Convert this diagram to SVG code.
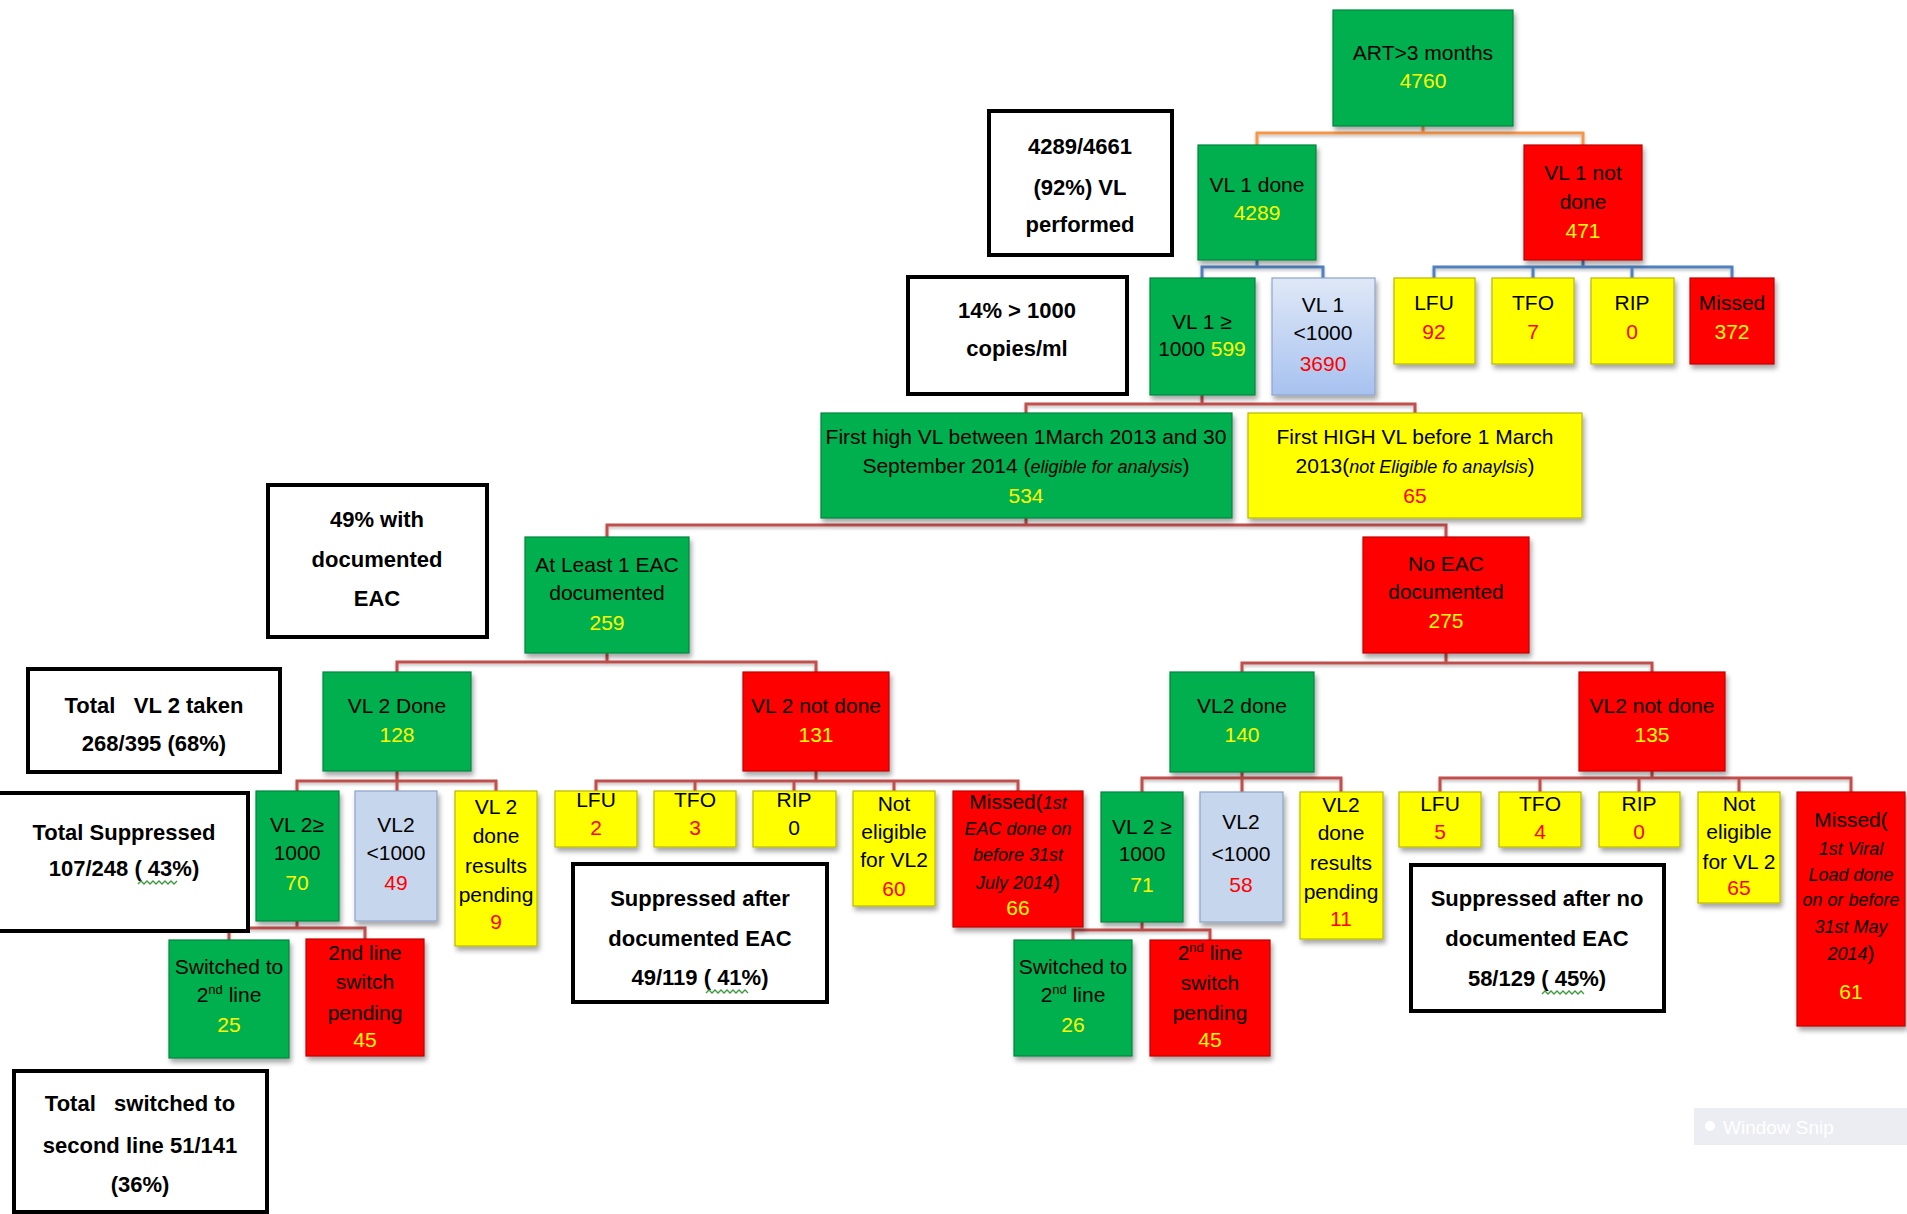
<svg xmlns="http://www.w3.org/2000/svg" width="1907" height="1214" viewBox="0 0 1907 1214">
<defs>
<filter id="sh" x="-10%" y="-10%" width="130%" height="130%">
<feDropShadow dx="2" dy="4" stdDeviation="2.5" flood-color="#000" flood-opacity="0.35"/>
</filter>
<filter id="lg" x="-5%" y="-50%" width="110%" height="300%">
<feDropShadow dx="0" dy="2" stdDeviation="1.5" flood-color="#000" flood-opacity="0.25"/>
</filter>
<linearGradient id="blg" x1="0" y1="0" x2="0" y2="1">
<stop offset="0" stop-color="#dfe8f6"/>
<stop offset="1" stop-color="#a7c2f0"/>
</linearGradient>
</defs>
<style>
text{font-family:"Liberation Sans",Arial,sans-serif;font-size:21px;fill:#000;text-anchor:middle}
.g{fill:#00b050;stroke:#00853c;stroke-width:1.2;filter:url(#sh)}
.rd{fill:#ff0000;stroke:#c00000;stroke-width:1.2;filter:url(#sh)}
.yl{fill:#ffff00;stroke:#b8b800;stroke-width:1.2;filter:url(#sh)}
.bl{fill:#c6d6ec;stroke:#8ea4c8;stroke-width:1.2;filter:url(#sh)}
.blg{fill:url(#blg);stroke:#8ea4c8;stroke-width:1.2;filter:url(#sh)}
.note{fill:#fff;stroke:#000;stroke-width:4}
.nt{font-weight:bold;font-size:22px}
.y{fill:#ffff00}
.r{fill:#ff0000}
.it{font-style:italic;font-size:18px}
.c{fill:none;stroke-width:3;filter:url(#lg)}
.co{stroke:#f79646}
.cb{stroke:#4f81bd}
.cr{stroke:#c0504d}
.sq{fill:none;stroke:#3a9a3a;stroke-width:1.3}
</style>
<rect width="1907" height="1214" fill="#fff"/>

<g id="connectors">
<path class="c co" d="M1423,126 V133 M1257,145 V133 H1583 V145"/>
<path class="c cb" d="M1257,260 V267 M1202,278 V267 H1323 V278"/>
<path class="c cb" d="M1583,260 V267 M1434,278 V267 H1732 V278 M1533,267 V278 M1632,267 V278"/>
<path class="c cr" d="M1202,395 V404 M1026,413 V404 H1415 V413"/>
<path class="c cr" d="M1026,518 V525 M607,537 V525 H1446 V537"/>
<path class="c cr" d="M607,653 V662 M397,672 V662 H816 V672"/>
<path class="c cr" d="M1446,653 V663 M1242,672 V663 H1652 V672"/>
<path class="c cr" d="M397,771 V791 M297,791 V781 H496 V791"/>
<path class="c cr" d="M816,771 V781 M596,791 V781 H1018 V791 M695,781 V791 M794,781 V791 M894,781 V791"/>
<path class="c cr" d="M297,921 V928 M229,940 V928 H365 V939"/>
<path class="c cr" d="M1242,772 V792 M1142,792 V778 H1341 V792"/>
<path class="c cr" d="M1652,771 V778 M1440,792 V778 H1851 V792 M1540,778 V792 M1639,778 V792 M1739,778 V792"/>
<path class="c cr" d="M1142,922 V930 M1073,940 V930 H1210 V940"/>
</g>

<g id="n_art"><rect class="g" x="1333" y="10" width="180" height="116"/>
<text x="1423" y="60">ART&gt;3 months</text><text class="y" x="1423" y="88">4760</text></g>

<g id="n_vl1done"><rect class="g" x="1198" y="145" width="118" height="115"/>
<text x="1257" y="192">VL 1 done</text><text class="y" x="1257" y="220">4289</text></g>

<g id="n_vl1notdone"><rect class="rd" x="1524" y="145" width="118" height="115"/>
<text x="1583" y="180">VL 1 not</text><text x="1583" y="209">done</text><text class="y" x="1583" y="238">471</text></g>

<g id="note_4289"><rect class="note" x="989" y="111" width="183" height="144"/>
<text class="nt" x="1080" y="154">4289/4661</text><text class="nt" x="1080" y="195">(92%) VL</text><text class="nt" x="1080" y="232">performed</text></g>

<g id="note_14"><rect class="note" x="908" y="277" width="219" height="117"/>
<text class="nt" x="1017" y="318">14% &gt; 1000</text><text class="nt" x="1017" y="356">copies/ml</text></g>

<g id="n_vl1hi"><rect class="g" x="1150" y="278" width="105" height="117"/>
<text x="1202" y="329">VL 1 ≥</text><text x="1202" y="356">1000 <tspan class="y">599</tspan></text></g>

<g id="n_vl1lo"><rect class="blg" x="1272" y="278" width="103" height="117"/>
<text x="1323" y="312">VL 1</text><text x="1323" y="340">&lt;1000</text><text class="r" x="1323" y="371">3690</text></g>

<g id="n_lfu1"><rect class="yl" x="1394" y="278" width="81" height="86"/>
<text x="1434" y="310">LFU</text><text class="r" x="1434" y="339">92</text></g>
<g id="n_tfo1"><rect class="yl" x="1492" y="278" width="82" height="86"/>
<text x="1533" y="310">TFO</text><text class="r" x="1533" y="339">7</text></g>
<g id="n_rip1"><rect class="yl" x="1591" y="278" width="83" height="86"/>
<text x="1632" y="310">RIP</text><text class="r" x="1632" y="339">0</text></g>
<g id="n_missed1"><rect class="rd" x="1690" y="278" width="84" height="86"/>
<text x="1732" y="310">Missed</text><text class="y" x="1732" y="339">372</text></g>

<g id="n_elig"><rect class="g" x="821" y="413" width="411" height="105"/>
<text x="1026" y="444">First high VL between 1March 2013 and 30</text>
<text x="1026" y="473">September 2014 (<tspan class="it">eligible for analysis</tspan>)</text>
<text class="y" x="1026" y="503">534</text></g>

<g id="n_notelig"><rect class="yl" x="1248" y="413" width="334" height="105"/>
<text x="1415" y="444">First HIGH VL before 1 March</text>
<text x="1415" y="473">2013(<tspan class="it">not Eligible fo anaylsis</tspan>)</text>
<text class="r" x="1415" y="503">65</text></g>

<g id="note_49"><rect class="note" x="268" y="485" width="219" height="152"/>
<text class="nt" x="377" y="527">49% with</text><text class="nt" x="377" y="567">documented</text><text class="nt" x="377" y="606">EAC</text></g>

<g id="n_eac"><rect class="g" x="525" y="537" width="164" height="116"/>
<text x="607" y="572">At Least 1 EAC</text><text x="607" y="600">documented</text><text class="y" x="607" y="630">259</text></g>

<g id="n_noeac"><rect class="rd" x="1363" y="537" width="166" height="116"/>
<text x="1446" y="571">No EAC</text><text x="1446" y="599">documented</text><text class="y" x="1446" y="628">275</text></g>

<g id="note_vl2taken"><rect class="note" x="28" y="669" width="252" height="103"/>
<text class="nt" x="154" y="713" xml:space="preserve">Total   VL 2 taken</text><text class="nt" x="154" y="751">268/395 (68%)</text></g>

<g id="n_vl2done_l"><rect class="g" x="323" y="672" width="148" height="99"/>
<text x="397" y="713">VL 2 Done</text><text class="y" x="397" y="742">128</text></g>
<g id="n_vl2notdone_l"><rect class="rd" x="743" y="672" width="146" height="99"/>
<text x="816" y="713">VL 2 not done</text><text class="y" x="816" y="742">131</text></g>
<g id="n_vl2done_r"><rect class="g" x="1170" y="672" width="144" height="100"/>
<text x="1242" y="713">VL2 done</text><text class="y" x="1242" y="742">140</text></g>
<g id="n_vl2notdone_r"><rect class="rd" x="1579" y="672" width="146" height="99"/>
<text x="1652" y="713">VL2 not done</text><text class="y" x="1652" y="742">135</text></g>

<g id="note_totsupp"><rect class="note" x="-3" y="793" width="251" height="138"/>
<text class="nt" x="124" y="840">Total Suppressed</text><text class="nt" x="124" y="876">107/248 ( 43%)</text>
<path class="sq" d="M138,884 l3,-3 l3,3 l3,-3 l3,3 l3,-3 l3,3 l3,-3 l3,3 l3,-3 l3,3 l3,-3 l3,3 l3,-3"/></g>

<g id="n_vl2hi_l"><rect class="g" x="256" y="791" width="83" height="130"/>
<text x="297" y="832">VL 2≥</text><text x="297" y="860">1000</text><text class="y" x="297" y="890">70</text></g>
<g id="n_vl2lo_l"><rect class="bl" x="355" y="791" width="82" height="130"/>
<text x="396" y="832">VL2</text><text x="396" y="860">&lt;1000</text><text class="r" x="396" y="890">49</text></g>
<g id="n_pend_l"><rect class="yl" x="455" y="791" width="82" height="155"/>
<text x="496" y="814">VL 2</text><text x="496" y="843">done</text><text x="496" y="873">results</text><text x="496" y="902">pending</text><text class="r" x="496" y="929">9</text></g>
<g id="n_lfu_l"><rect class="yl" x="555" y="791" width="82" height="56"/>
<text x="596" y="807">LFU</text><text class="r" x="596" y="835">2</text></g>
<g id="n_tfo_l"><rect class="yl" x="654" y="791" width="82" height="56"/>
<text x="695" y="807">TFO</text><text class="r" x="695" y="835">3</text></g>
<g id="n_rip_l"><rect class="yl" x="753" y="791" width="83" height="56"/>
<text x="794" y="807">RIP</text><text x="794" y="835">0</text></g>
<g id="n_ne_l"><rect class="yl" x="853" y="791" width="82" height="115"/>
<text x="894" y="811">Not</text><text x="894" y="839">eligible</text><text x="894" y="867">for VL2</text><text class="r" x="894" y="896">60</text></g>
<g id="n_missed_l"><rect class="rd" x="953" y="791" width="130" height="136"/>
<text x="1018" y="809">Missed(<tspan class="it">1st</tspan></text>
<text class="it" x="1018" y="835">EAC done on</text>
<text class="it" x="1018" y="861">before 31st</text>
<text x="1018" y="889"><tspan class="it">July 2014</tspan>)</text>
<text class="y" x="1018" y="915">66</text></g>

<g id="n_sw_l"><rect class="g" x="169" y="940" width="120" height="118"/>
<text x="229" y="974">Switched to</text><text x="229" y="1002">2<tspan font-size="13" dy="-8">nd</tspan><tspan dy="8"> line</tspan></text><text class="y" x="229" y="1032">25</text></g>
<g id="n_swp_l"><rect class="rd" x="306" y="939" width="118" height="117"/>
<text x="365" y="960">2nd line</text><text x="365" y="989">switch</text><text x="365" y="1020">pending</text><text class="y" x="365" y="1047">45</text></g>

<g id="note_suppEAC"><rect class="note" x="573" y="864" width="254" height="138"/>
<text class="nt" x="700" y="906">Suppressed after</text><text class="nt" x="700" y="946">documented EAC</text><text class="nt" x="700" y="985">49/119 ( 41%)</text>
<path class="sq" d="M706,993 l3,-3 l3,3 l3,-3 l3,3 l3,-3 l3,3 l3,-3 l3,3 l3,-3 l3,3 l3,-3 l3,3 l3,-3 l3,3"/></g>

<g id="note_totsw"><rect class="note" x="14" y="1071" width="253" height="141"/>
<text class="nt" x="140" y="1111" xml:space="preserve">Total   switched to</text><text class="nt" x="140" y="1153">second line 51/141</text><text class="nt" x="140" y="1192">(36%)</text></g>

<g id="n_vl2hi_r"><rect class="g" x="1101" y="792" width="82" height="130"/>
<text x="1142" y="834">VL 2 ≥</text><text x="1142" y="861">1000</text><text class="y" x="1142" y="892">71</text></g>
<g id="n_vl2lo_r"><rect class="bl" x="1200" y="792" width="83" height="130"/>
<text x="1241" y="829">VL2</text><text x="1241" y="861">&lt;1000</text><text class="r" x="1241" y="892">58</text></g>
<g id="n_pend_r"><rect class="yl" x="1300" y="792" width="83" height="147"/>
<text x="1341" y="812">VL2</text><text x="1341" y="840">done</text><text x="1341" y="870">results</text><text x="1341" y="899">pending</text><text class="r" x="1341" y="926">11</text></g>
<g id="n_lfu_r"><rect class="yl" x="1399" y="792" width="82" height="55"/>
<text x="1440" y="811">LFU</text><text class="r" x="1440" y="839">5</text></g>
<g id="n_tfo_r"><rect class="yl" x="1499" y="792" width="82" height="55"/>
<text x="1540" y="811">TFO</text><text class="r" x="1540" y="839">4</text></g>
<g id="n_rip_r"><rect class="yl" x="1599" y="792" width="81" height="55"/>
<text x="1639" y="811">RIP</text><text class="r" x="1639" y="839">0</text></g>
<g id="n_ne_r"><rect class="yl" x="1698" y="792" width="82" height="111"/>
<text x="1739" y="811">Not</text><text x="1739" y="839">eligible</text><text x="1739" y="869">for VL 2</text><text class="r" x="1739" y="895">65</text></g>
<g id="n_missed_r"><rect class="rd" x="1797" y="792" width="108" height="234"/>
<text x="1851" y="827">Missed(</text>
<text class="it" x="1851" y="855">1st Viral</text>
<text class="it" x="1851" y="881">Load done</text>
<text class="it" x="1851" y="906">on or before</text>
<text class="it" x="1851" y="933">31st May</text>
<text x="1851" y="960"><tspan class="it">2014</tspan>)</text>
<text class="y" x="1851" y="999">61</text></g>

<g id="note_suppnoEAC"><rect class="note" x="1411" y="865" width="253" height="146"/>
<text class="nt" x="1537" y="906">Suppressed after no</text><text class="nt" x="1537" y="946">documented EAC</text><text class="nt" x="1537" y="986">58/129 ( 45%)</text>
<path class="sq" d="M1542,994 l3,-3 l3,3 l3,-3 l3,3 l3,-3 l3,3 l3,-3 l3,3 l3,-3 l3,3 l3,-3 l3,3 l3,-3 l3,3"/></g>

<g id="n_sw_r"><rect class="g" x="1014" y="940" width="118" height="116"/>
<text x="1073" y="974">Switched to</text><text x="1073" y="1002">2<tspan font-size="13" dy="-8">nd</tspan><tspan dy="8"> line</tspan></text><text class="y" x="1073" y="1032">26</text></g>
<g id="n_swp_r"><rect class="rd" x="1150" y="940" width="120" height="116"/>
<text x="1210" y="960">2<tspan font-size="13" dy="-8">nd</tspan><tspan dy="8"> line</tspan></text><text x="1210" y="990">switch</text><text x="1210" y="1020">pending</text><text class="y" x="1210" y="1047">45</text></g>

<g id="window_snip"><rect x="1694" y="1108" width="213" height="37" fill="#ecedf2"/>
<circle cx="1710" cy="1126" r="5" fill="#fff"/>
<text x="1723" y="1134" style="text-anchor:start;fill:#fff;font-size:19px">Window Snip</text></g>
</svg>
